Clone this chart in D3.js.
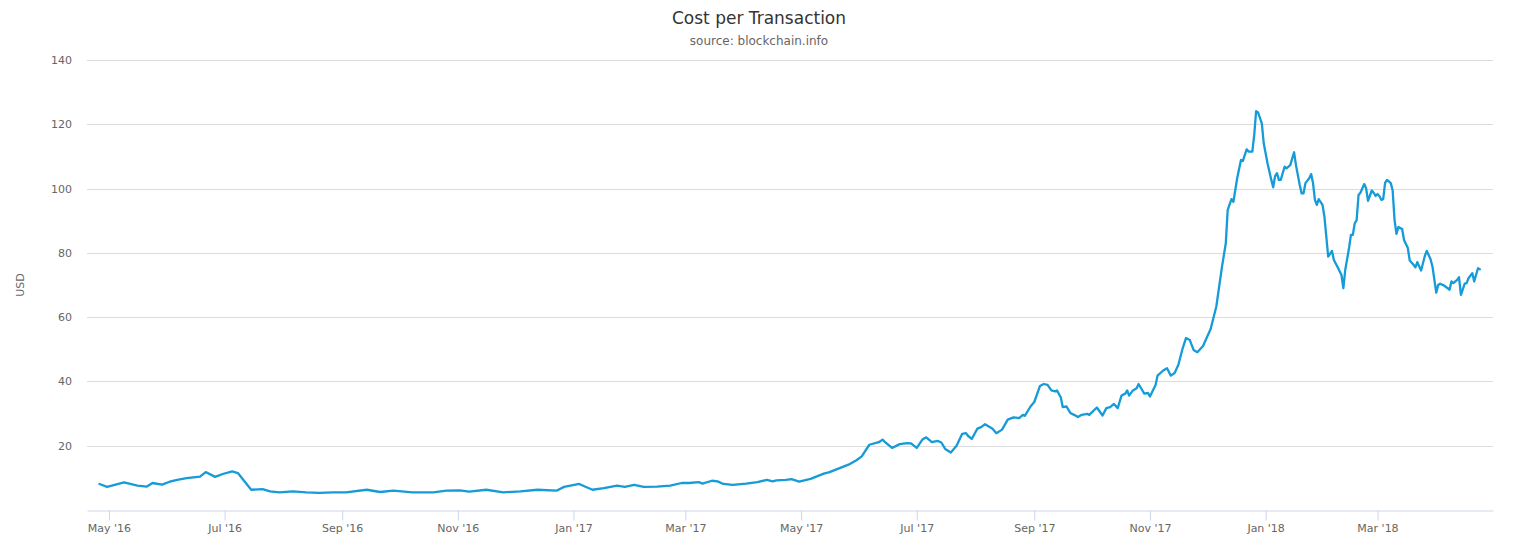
<!DOCTYPE html>
<html>
<head>
<meta charset="utf-8">
<script src="https://cdn.jsdelivr.net/npm/d3@7"></script>
<style>
    body { margin: 0; background: #fff; }
    svg { font-family: "Lucida Grande", "DejaVu Sans", sans-serif; }
</style>
</head>
<body>
<svg id="chart" width="1518" height="550"></svg>
<script>
// cost per transaction in USD
const dates = [
    "2016-04-26", "2016-04-30", "2016-05-09", "2016-05-16", "2016-05-21", "2016-05-24", "2016-05-29",
    "2016-06-02", "2016-06-06", "2016-06-11", "2016-06-18", "2016-06-21", "2016-06-26", "2016-06-30",
    "2016-07-05", "2016-07-08", "2016-07-15", "2016-07-21", "2016-07-25", "2016-07-30", "2016-08-06",
    "2016-08-13", "2016-08-20", "2016-08-27", "2016-09-03", "2016-09-14", "2016-09-21", "2016-09-28",
    "2016-10-08", "2016-10-19", "2016-10-26", "2016-11-02", "2016-11-07", "2016-11-16", "2016-11-25",
    "2016-12-04", "2016-12-13", "2016-12-23", "2016-12-27", "2017-01-04", "2017-01-07", "2017-01-11",
    "2017-01-17", "2017-01-24", "2017-01-28", "2017-02-02", "2017-02-07", "2017-02-14", "2017-02-21",
    "2017-02-27", "2017-03-03", "2017-03-08", "2017-03-10", "2017-03-15", "2017-03-18", "2017-03-21",
    "2017-03-26", "2017-04-02", "2017-04-08", "2017-04-13", "2017-04-16", "2017-04-18", "2017-04-23",
    "2017-04-26", "2017-04-30", "2017-05-06", "2017-05-13", "2017-05-16", "2017-05-22", "2017-05-26",
    "2017-05-30", "2017-06-02", "2017-06-06", "2017-06-11", "2017-06-13", "2017-06-14", "2017-06-18",
    "2017-06-22", "2017-06-26", "2017-06-28", "2017-07-01", "2017-07-04", "2017-07-06", "2017-07-09",
    "2017-07-12", "2017-07-14", "2017-07-16", "2017-07-19", "2017-07-22", "2017-07-25", "2017-07-27",
    "2017-07-28", "2017-07-30", "2017-08-02", "2017-08-04", "2017-08-06", "2017-08-10", "2017-08-12",
    "2017-08-15", "2017-08-18", "2017-08-21", "2017-08-24", "2017-08-26", "2017-08-27", "2017-08-30",
    "2017-09-01", "2017-09-04", "2017-09-06", "2017-09-08", "2017-09-10", "2017-09-12", "2017-09-13",
    "2017-09-15", "2017-09-16", "2017-09-18", "2017-09-20", "2017-09-22", "2017-09-24", "2017-09-26",
    "2017-09-29", "2017-09-30", "2017-10-04", "2017-10-07", "2017-10-09", "2017-10-11", "2017-10-13",
    "2017-10-15", "2017-10-17", "2017-10-19", "2017-10-20", "2017-10-21", "2017-10-23", "2017-10-25",
    "2017-10-26", "2017-10-29", "2017-10-31", "2017-11-01", "2017-11-04", "2017-11-05", "2017-11-08",
    "2017-11-10", "2017-11-12", "2017-11-14", "2017-11-16", "2017-11-18", "2017-11-20", "2017-11-22",
    "2017-11-24", "2017-11-26", "2017-11-29", "2017-12-03", "2017-12-06", "2017-12-09", "2017-12-11",
    "2017-12-12", "2017-12-14", "2017-12-15", "2017-12-17", "2017-12-19", "2017-12-20", "2017-12-22",
    "2017-12-23", "2017-12-25", "2017-12-26", "2017-12-27", "2017-12-28", "2017-12-30", "2017-12-31",
    "2018-01-02", "2018-01-04", "2018-01-05", "2018-01-06", "2018-01-07", "2018-01-08", "2018-01-09",
    "2018-01-11", "2018-01-12", "2018-01-14", "2018-01-16", "2018-01-17", "2018-01-19", "2018-01-20",
    "2018-01-21", "2018-01-22", "2018-01-24", "2018-01-25", "2018-01-26", "2018-01-27", "2018-01-28",
    "2018-01-29", "2018-01-31", "2018-02-01", "2018-02-02", "2018-02-03", "2018-02-05", "2018-02-06",
    "2018-02-08", "2018-02-10", "2018-02-11", "2018-02-12", "2018-02-14", "2018-02-15", "2018-02-16",
    "2018-02-17", "2018-02-18", "2018-02-19", "2018-02-20", "2018-02-22", "2018-02-23", "2018-02-24",
    "2018-02-26", "2018-02-27", "2018-02-28", "2018-03-01", "2018-03-02", "2018-03-03", "2018-03-04",
    "2018-03-05", "2018-03-06", "2018-03-08", "2018-03-09", "2018-03-10", "2018-03-11", "2018-03-12",
    "2018-03-14", "2018-03-15", "2018-03-17", "2018-03-18", "2018-03-20", "2018-03-21", "2018-03-22",
    "2018-03-24", "2018-03-26", "2018-03-27", "2018-03-29", "2018-03-30", "2018-04-01", "2018-04-02",
    "2018-04-03", "2018-04-05", "2018-04-07", "2018-04-08", "2018-04-09", "2018-04-10", "2018-04-12",
    "2018-04-13", "2018-04-14", "2018-04-16", "2018-04-17", "2018-04-18", "2018-04-20", "2018-04-21",
    "2018-04-23", "2018-04-24"
];

const costs = [
    8.1, 7.2, 8.6, 7.6, 7.3, 8.4, 7.9,
    8.8, 9.4, 9.9, 10.4, 11.8, 10.3, 11.2,
    12.0, 11.5, 6.3, 6.5, 5.8, 5.5, 5.8,
    5.5, 5.3, 5.5, 5.5, 6.3, 5.6, 6.0,
    5.5, 5.5, 6.0, 6.1, 5.7, 6.3, 5.5,
    5.8, 6.3, 6.0, 7.2, 8.1, 7.3, 6.3,
    6.8, 7.6, 7.2, 7.8, 7.2, 7.3, 7.6,
    8.4, 8.4, 8.7, 8.2, 9.1, 8.9, 8.1,
    7.8, 8.2, 8.7, 9.4, 8.9, 9.2, 9.4,
    9.6, 8.8, 9.7, 11.3, 11.8, 13.2, 14.1,
    15.4, 16.7, 20.3, 21.1, 21.9, 21.3, 19.3,
    20.5, 20.8, 20.7, 19.3, 21.9, 22.6, 21.1,
    21.5, 21.0, 19.0, 17.9, 20.0, 23.7, 23.9,
    23.1, 22.1, 25.3, 25.8, 26.7, 25.3, 23.9,
    25.0, 28.1, 28.8, 28.6, 29.6, 29.3, 32.2,
    33.6, 38.6, 39.2, 38.9, 37.2, 36.9, 37.2,
    35.0, 32.0, 32.2, 30.2, 29.6, 28.9, 29.6,
    29.9, 29.6, 31.9, 29.4, 31.7, 32.0, 33.0,
    31.7, 35.6, 36.2, 37.2, 35.6, 37.2, 37.9,
    39.2, 36.2, 36.4, 35.3, 39.0, 41.8, 43.4,
    44.1, 41.8, 42.6, 45.2, 49.8, 53.5, 52.9,
    49.8, 49.1, 51.0, 56.3, 63.3, 75.7, 83.0,
    93.4, 96.7, 95.9, 103.2, 108.9, 108.6, 112.2,
    111.5, 111.5, 116.7, 124.1, 123.7, 120.3, 114.1,
    107.9, 102.7, 100.4, 103.9, 104.8, 102.7, 102.7,
    106.8, 106.3, 107.3, 111.3, 107.3, 101.1, 98.5,
    98.5, 101.7, 103.2, 104.5, 101.7, 96.5, 94.9,
    96.7, 94.9, 91.3, 85.1, 78.8, 80.6, 77.8,
    75.5, 73.1, 69.0, 74.7, 81.5, 85.6, 85.6,
    89.2, 90.2, 98.0, 98.7, 101.4, 100.1, 96.2,
    99.4, 98.7, 97.7, 98.3, 97.7, 96.5, 96.7,
    101.8, 102.7, 101.7, 99.4, 90.2, 85.9, 88.0,
    87.4, 84.0, 81.5, 77.6, 76.3, 75.5, 77.1,
    74.5, 79.1, 80.6, 78.0, 75.7, 67.6, 70.0,
    70.4, 69.9, 69.0, 68.5, 71.1, 70.6, 71.6,
    72.4, 66.9, 70.4, 70.6, 72.1, 73.7, 71.1,
    75.2, 74.9
];

const yTicks = [20, 40, 60, 80, 100, 120, 140];
const titleText = "Cost per Transaction";
const subtitleText = "source: blockchain.info";

const parseDate = d3.timeParse("%Y-%m-%d");
const points = dates.map((d, i) => ({ date: parseDate(d), value: costs[i] }));

const svg = d3.select("#chart");
// plot box (window.top is taken, so no bare "top")
const plotLeft = 87, plotRight = 1493, plotTop = 60, plotBottom = 510;

// axis runs a little past both ends of the data
const x = d3.scaleTime()
    .domain([new Date(2016, 3, 19, 10), new Date(2018, 3, 30, 22)])
    .range([plotLeft, plotRight]);

const y = d3.scaleLinear()
    .domain([0, 140])
    .range([plotBottom, plotTop]);

// title + subtitle
svg.append("text")
    .attr("x", 759).attr("y", 24)
    .attr("text-anchor", "middle")
    .style("font-size", "17px")
    .style("fill", "#333333")
    .text(titleText);
svg.append("text")
    .attr("x", 759).attr("y", 45)
    .attr("text-anchor", "middle")
    .style("font-size", "12px")
    .style("fill", "#666666")
    .text(subtitleText);

// horizontal grid lines
svg.append("g")
    .selectAll("line")
    .data(yTicks)
    .join("line")
    .attr("x1", plotLeft).attr("x2", plotRight)
    .attr("y1", d => Math.round(y(d)) + 0.5)
    .attr("y2", d => Math.round(y(d)) + 0.5)
    .attr("stroke", "#dcdcdc")
    .attr("stroke-width", 1);

// y labels
svg.append("g")
    .selectAll("text")
    .data(yTicks)
    .join("text")
    .attr("x", 72)
    .attr("y", d => y(d) + 4)
    .attr("text-anchor", "end")
    .style("font-size", "11px")
    .style("fill", "#666666")
    .text(d => d);

svg.append("text")
    .attr("transform", "translate(24," + ((plotTop + plotBottom) / 2) + ") rotate(-90)")
    .attr("text-anchor", "middle")
    .style("font-size", "11px")
    .style("fill", "#666666")
    .text("USD");

// x axis
const xAxis = d3.axisBottom(x)
    .ticks(d3.timeMonth.every(2))
    .tickFormat(d3.timeFormat("%b '%y"))
    .tickSize(10)
    .tickSizeOuter(0);

const gx = svg.append("g")
    .attr("transform", "translate(0," + (plotBottom + 0.5) + ")")
    .call(xAxis);
gx.select(".domain").attr("stroke", "#ccd6eb");
gx.selectAll(".tick line").attr("stroke", "#ccd6eb");
gx.selectAll(".tick text")
    .attr("dy", null)
    .attr("y", 21)
    .style("font-family", "\"Lucida Grande\", \"DejaVu Sans\", sans-serif")
    .style("font-size", "11px")
    .style("fill", "#666666");

// the series
const line = d3.line()
    .x(d => x(d.date))
    .y(d => y(d.value));

svg.append("path")
    .datum(points)
    .attr("d", line)
    .attr("fill", "none")
    .attr("stroke", "#159bd7")
    .attr("stroke-width", 2.3)
    .attr("stroke-linejoin", "round")
    .attr("stroke-linecap", "round");
</script>
</body>
</html>
